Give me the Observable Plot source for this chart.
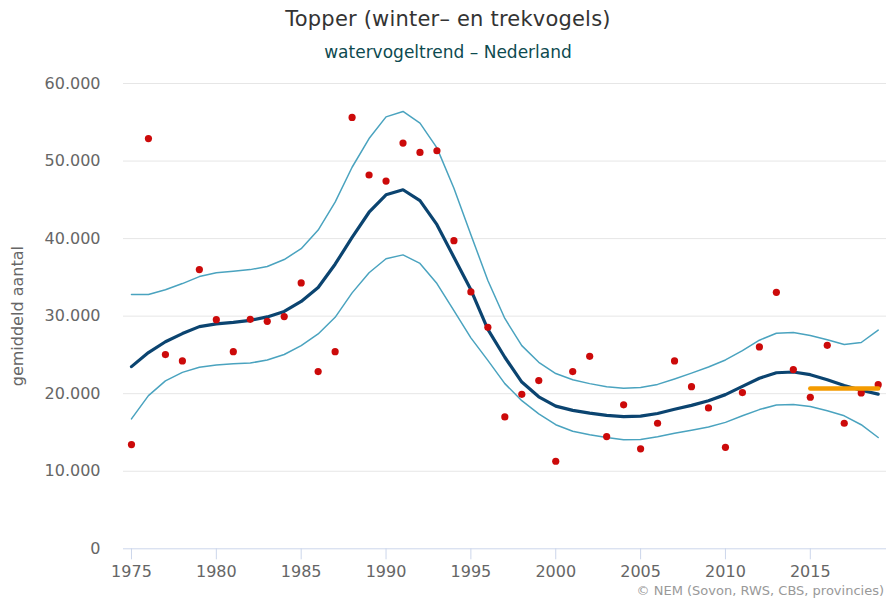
<!DOCTYPE html>
<html>
<head>
<meta charset="utf-8">
<script src="https://cdn.jsdelivr.net/npm/d3@7"></script>
<script src="https://cdn.jsdelivr.net/npm/@observablehq/plot@0.6"></script>
<style>
  html, body { margin: 0; padding: 0; background: #fff; }
  #wrap { position: relative; width: 896px; height: 604px; font-family: "DejaVu Sans", sans-serif; overflow: hidden; }
  #head { height: 66px; position: relative; }
  #title { position: absolute; top: 7px; left: 0; width: 896px; text-align: center; font-size: 21px; color: #333; letter-spacing: 0.2px; }
  #subtitle { position: absolute; top: 42px; left: 0; width: 896px; text-align: center; font-size: 17px; color: #0d4a4f; }
  #credit { position: absolute; top: 583px; right: 12px; font-size: 13px; color: #999; }
  svg { display: block; }
</style>
</head>
<body>
<div id="wrap">
  <div id="head">
    <div id="title">Topper (winter– en trekvogels)</div>
    <div id="subtitle">watervogeltrend – Nederland</div>
  </div>
  <div id="chart"></div>
  <div id="credit">© NEM (Sovon, RWS, CBS, provincies)</div>
</div>
<script>
const years = d3.range(1975, 2020);
const counts = [13440, 52900, 25040, 24230, 36000, 29550, 25420, 29590, 29330, 29940,
  34280, 22850, 25420, 55620, 48200, 47420, 52320, 51110, 51330, 39730,
  33120, 28560, 17010, 19920, 21690, 11290, 22850, 24820, 14470, 18560,
  12890, 16190, 24230, 20910, 18170, 13090, 20140, 26030, 33070, 23110,
  19540, 26240, 16190, 20100, 21170];
const trend = [23490, 25300, 26700, 27750, 28650, 29000, 29200, 29450, 29900, 30600,
  31900, 33700, 36700, 40150, 43400, 45650, 46300, 44900, 41800, 37600,
  33400, 28300, 24700, 21500, 19600, 18400, 17850, 17500, 17200, 17050,
  17100, 17450, 18000, 18500, 19100, 19880, 20950, 22000, 22700, 22800,
  22450, 21800, 21050, 20450, 19950];
const upper = [32800, 32800, 33400, 34200, 35100, 35600, 35800, 36000, 36400, 37300,
  38700, 41100, 44700, 49200, 52900, 55700, 56400, 54900, 51700, 46500,
  40500, 34600, 29700, 26200, 24050, 22600, 21800, 21300, 20900, 20700,
  20800, 21200, 21900, 22650, 23450, 24350, 25550, 26900, 27800, 27900,
  27500, 26950, 26350, 26600, 28200];
const lower = [16750, 19750, 21650, 22750, 23400, 23700, 23850, 23950, 24350, 25050,
  26200, 27700, 29850, 33000, 35600, 37400, 37900, 36800, 34200, 30700,
  27200, 24300, 21300, 19100, 17400, 16000, 15150, 14700, 14350, 14050,
  14100, 14450, 14900, 15300, 15700, 16300, 17150, 17950, 18550, 18600,
  18350, 17800, 17150, 16000, 14350];
const refYears = [2015, 2019];
const refValue = 20660;
const xTicks = [1975, 1980, 1985, 1990, 1995, 2000, 2005, 2010, 2015];
const yTicks = [0, 10000, 20000, 30000, 40000, 50000, 60000];

const nl = d3.formatLocale({decimal: ",", thousands: ".", grouping: [3], currency: ["", ""]});
const fmt = nl.format(",d");

const series = years.map((y, i) => ({year: y, count: counts[i], trend: trend[i], upper: upper[i], lower: lower[i]}));
const ref = refYears.map(y => ({year: y, value: refValue}));

const plot = Plot.plot({
  width: 896,
  height: 538,
  marginTop: 17,
  marginBottom: 55.7,
  marginLeft: 123,
  marginRight: 10,
  style: {fontFamily: "DejaVu Sans, sans-serif", background: "#fff"},
  x: {domain: [1974.53, 2019.49]},
  y: {domain: [0, 60000]},
  marks: [
    Plot.gridY(yTicks.filter(d => d > 0), {stroke: "#e6e6e6", strokeOpacity: 1, strokeWidth: 1}),
    Plot.ruleY([0], {stroke: "#ccd6eb", strokeWidth: 1}),
    Plot.axisX(xTicks, {tickSize: 11, tickPadding: 6, stroke: "#ccd6eb", strokeOpacity: 1, fill: "#666", fontSize: 16, tickFormat: d => String(d), label: null}),
    Plot.axisY(yTicks, {tickSize: 0, tickPadding: 23, fill: "#666", fontSize: 16, tickFormat: fmt,
      label: "gemiddeld aantal", labelAnchor: "center", labelArrow: "none", labelOffset: 112}),
    Plot.line(series, {x: "year", y: "upper", stroke: "#4aa3bf", strokeWidth: 1.5, curve: "linear"}),
    Plot.line(series, {x: "year", y: "lower", stroke: "#4aa3bf", strokeWidth: 1.5, curve: "linear"}),
    Plot.line(series, {x: "year", y: "trend", stroke: "#0b4470", strokeWidth: 3.2, curve: "linear"}),
    Plot.dot(series, {x: "year", y: "count", r: 3.6, fill: "#cc0a0a", stroke: "none"}),
    Plot.line(ref, {x: "year", y: "value", stroke: "#f49b00", strokeWidth: 4.5})
  ]
});
document.getElementById("chart").appendChild(plot);
</script>
</body>
</html>
